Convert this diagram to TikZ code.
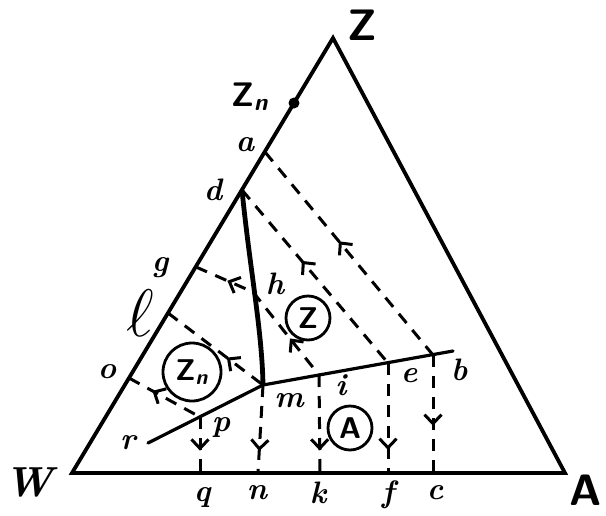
\documentclass[tikz,border=0pt]{standalone}
\usetikzlibrary{decorations.markings,arrows.meta}
\begin{document}
\begin{tikzpicture}[x=1pt,y=-1pt,
  edge/.style={line width=3.8pt,line join=miter},
  bound/.style={line width=3.2pt,line cap=round},
  tie/.style={line width=3pt,dash pattern=on 12pt off 9pt},
  chev/.tip={Straight Barb[length=9pt,width=17pt,line width=3pt]},
  lbl/.style={font=\fontsize{31}{31}\selectfont\bfseries\itshape,inner sep=0pt},
  biglbl/.style={font=\fontsize{44}{44}\selectfont\sffamily\bfseries,inner sep=0pt},
  ring/.style={circle,draw,line width=2.8pt,inner sep=0pt,font=\fontsize{30}{30}\selectfont\sffamily\bfseries},
  back/.style={postaction={decorate},decoration={markings,mark=at position #1 with {\arrowreversed{chev}}}},
  fwd/.style={postaction={decorate},decoration={markings,mark=at position #1 with {\arrow{chev}}}}
]
\useasboundingbox (0,0) rectangle (606,515);
% corners
\coordinate (W) at (72,473);
\coordinate (A) at (565,473);
\coordinate (Z) at (333,38);
% points on left edge
\coordinate (Zn) at (294,103);
\coordinate (a) at (265,152);
\coordinate (d) at (242,190);
\coordinate (g) at (196,267);
\coordinate (l) at (168,313);
\coordinate (o) at (129,378);
% boundary lines
\coordinate (J) at (263,385);
\coordinate (B) at (453,351);
\coordinate (R) at (148,443);
\coordinate (h) at (253,292);
\coordinate (p) at (200,417);
\coordinate (i) at (319,375);
\coordinate (e) at (388,363);
\coordinate (cc) at (433,355);
% base points
\coordinate (q) at (200,473);
\coordinate (n) at (258,473);
\coordinate (k) at (320,473);
\coordinate (f) at (388,473);
\coordinate (c) at (433,473);

\draw[edge] (W) -- (Z) -- (A) -- cycle;
\fill (Zn) circle (5.5);
\draw[line width=4.8pt] (d) .. controls (250,270) and (262,330) .. (J);
\draw[bound] (R) -- (J) -- (B);

% tie lines
\draw[tie,back=0.44] (a) -- (cc);
\draw[tie,back=0.41] (d) -- (e);
\draw[tie,back=0.55] (g) -- (h);
\draw[tie,back=0.56] (h) -- (i);
\draw[tie,back=0.62] (l) -- (J);
\draw[tie,back=0.33] (o) -- (p);
% vertical lines
\draw[tie,fwd=0.6] (p) -- (q);
\draw[tie,fwd=0.75] (J) -- (n);
\draw[tie,fwd=0.77] (i) -- (k);
\draw[tie,fwd=0.79] (e) -- (f);
\draw[tie,fwd=0.6] (cc) -- (c);

% circled fields
\node[ring,minimum size=58pt] (fZn) at (192,372) {Z\textsubscript{\textit{n}}};
\node[ring,minimum size=44pt] (fZ) at (308,318) {Z};
\node[ring,minimum size=44pt] (fA) at (350,428) {A};

% labels
\node[biglbl] (tZ) at (362,25) {Z};
\node[biglbl,font=\fontsize{42}{42}\selectfont\bfseries\itshape] (tW) at (29,482) {W};
\node[biglbl] (tA) at (586,490) {A};
\node[inner sep=0pt,font=\fontsize{34}{34}\selectfont\sffamily\bfseries] (tZn) at (250,97) {Z\textsubscript{\textit{n}}};
\node[lbl] (ta) at (245,145) {a};
\node[lbl] (td) at (213,190) {d};
\node[lbl] (tg) at (160,268) {g};
\node[lbl] (tl) at (140,313) {\scalebox{2.7}{$\ell$}};
\node[lbl] (to) at (107,372) {o};
\node[lbl] (tr) at (128,443) {r};
\node[lbl] (tp) at (221,427) {p};
\node[lbl] (tm) at (289,401) {m};
\node[lbl] (th) at (275,284) {h};
\node[lbl] (ti) at (341,385) {i};
\node[lbl] (te) at (409,376) {e};
\node[lbl] (tb) at (459,370) {b};
\node[lbl] (tq) at (202,497) {q};
\node[lbl] (tn) at (257,493) {n};
\node[lbl] (tk) at (318,493) {k};
\node[lbl] (tf) at (388,495) {f};
\node[lbl] (tc) at (435,493) {c};
\end{tikzpicture}
\end{document}
